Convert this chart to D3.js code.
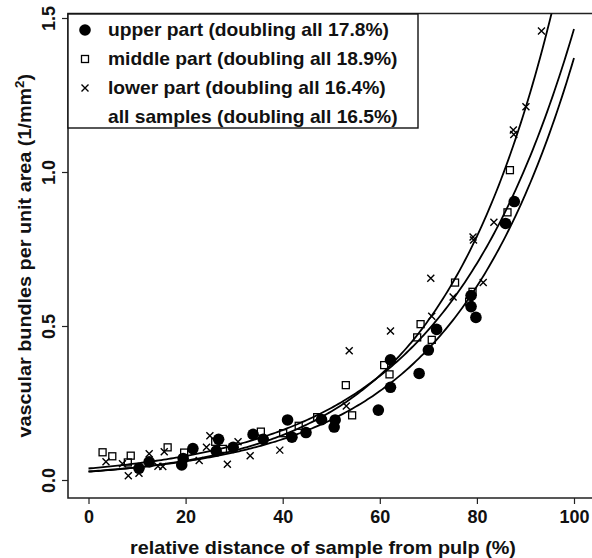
<!DOCTYPE html>
<html>
<head>
<meta charset="utf-8">
<script src="https://cdn.jsdelivr.net/npm/d3@7"></script>
<style>
  body { margin: 0; background: #fff; }
  text { font-family: "Liberation Sans", Arial, sans-serif; font-weight: bold; }
</style>
</head>
<body>
<div id="chart"></div>
<script>
// upper part: filled circles
const upperX = [10.4, 12.5, 19.2, 19.5, 21.5, 26.8, 26.3, 29.8, 33.9, 36.0, 41.0, 41.9, 44.8, 48.0, 50.8, 50.6,
    59.7, 62.2, 62.2, 68.1, 70.0, 71.7, 78.8, 78.8, 79.8, 85.9, 87.7];
const upperY = [0.038, 0.059, 0.049, 0.070, 0.102, 0.132, 0.094, 0.106, 0.148, 0.132, 0.195, 0.139, 0.154, 0.196, 0.195, 0.172,
    0.227, 0.301, 0.390, 0.346, 0.422, 0.489, 0.599, 0.563, 0.528, 0.833, 0.904];
// middle part: open squares
const middleX = [2.9, 4.9, 8.1, 8.7, 16.3, 19.7, 26.1, 27.7, 35.5, 40.1, 43.3, 47.1, 53.0, 54.3, 60.9, 62.0,
    68.4, 67.7, 70.7, 75.5, 79.1, 78.4, 86.3, 86.8];
const middleY = [0.090, 0.077, 0.057, 0.079, 0.106, 0.089, 0.124, 0.101, 0.157, 0.152, 0.176, 0.204, 0.308, 0.210, 0.373, 0.343,
    0.506, 0.463, 0.455, 0.641, 0.611, 0.579, 0.869, 1.006];
// lower part: crosses
const lowerX = [3.6, 7.0, 8.2, 10.4, 12.5, 14.3, 15.3, 15.6, 22.8, 24.3, 25.0, 28.6, 30.8, 33.3, 39.4, 53.1, 53.7,
    62.2, 70.5, 70.7, 75.1, 81.3, 79.2, 79.3, 83.5, 87.5, 87.6, 90.1, 93.3];
const lowerY = [0.059, 0.053, 0.014, 0.022, 0.085, 0.045, 0.044, 0.092, 0.063, 0.106, 0.144, 0.051, 0.124, 0.079, 0.097, 0.240, 0.420,
    0.484, 0.655, 0.532, 0.594, 0.641, 0.789, 0.779, 0.837, 1.136, 1.122, 1.212, 1.458];

// fitted exponential curves: value = start * 2^(x / doubling)
const curveNames = ["upper", "middle", "lower"];
const curveDoubling = [17.8, 18.9, 16.4];
const curveStart = [0.0279, 0.0374, 0.0269];

const legendLabels = ["upper part (doubling all 17.8%)", "middle part (doubling all 18.9%)",
    "lower part (doubling all 16.4%)", "all samples (doubling all 16.5%)"];
const legendSymbols = ["circle", "square", "cross", "none"];

const xTicks = [0, 20, 40, 60, 80, 100];
const yTicks = [0.0, 0.5, 1.0, 1.5];

const width = 592, height = 558;
const box = {left: 68, right: 594, top: 13.5, bottom: 498};
const stretch = 1.1; // text in the picture is a bit wider than the font

const x = d3.scaleLinear().domain([0, 100]).range([88.5, 574]);
const y = d3.scaleLinear().domain([0, 1.5]).range([480, 18]);

const svg = d3.select("#chart").append("svg")
    .attr("width", width)
    .attr("height", height);

svg.append("defs").append("clipPath")
    .attr("id", "plotclip")
    .append("rect")
    .attr("x", box.left).attr("y", box.top)
    .attr("width", box.right - box.left).attr("height", box.bottom - box.top);

// axes
const xAxis = svg.append("g")
    .attr("transform", "translate(0," + box.bottom + ")")
    .call(d3.axisBottom(x).tickValues(xTicks).tickSize(6).tickPadding(6).tickFormat(d3.format("d")));
xAxis.select(".domain").remove();
xAxis.selectAll("line").attr("stroke", "#222").attr("stroke-width", 1.2);
xAxis.selectAll("text").attr("font-size", 18).attr("fill", "#111");

const yAxis = svg.append("g")
    .attr("transform", "translate(" + box.left + ",0)")
    .call(d3.axisLeft(y).tickValues(yTicks).tickSize(6).tickFormat(d3.format(".1f")));
yAxis.select(".domain").remove();
yAxis.selectAll("line").attr("stroke", "#222").attr("stroke-width", 1.2);
yAxis.selectAll("text")
    .attr("font-size", 18).attr("fill", "#111")
    .attr("text-anchor", "middle")
    .attr("x", 0).attr("dy", 0)
    .attr("transform", "translate(-13,0) rotate(-90)");

// box (right side falls outside the picture)
svg.append("path")
    .attr("d", "M" + box.right + "," + box.top + "H" + box.left + "V" + box.bottom + "H" + box.right)
    .attr("fill", "none")
    .attr("stroke", "#222")
    .attr("stroke-width", 1.6);

// axis titles
svg.append("text")
    .attr("transform", "translate(" + ((box.left + box.right) / 2 - 8) + ",554) scale(" + stretch + ",1)")
    .attr("text-anchor", "middle")
    .attr("font-size", 18)
    .attr("fill", "#111")
    .text("relative distance of sample from pulp (%)");

const yTitle = svg.append("text")
    .attr("transform", "translate(31," + ((box.top + box.bottom) / 2) + ") rotate(-90) scale(" + stretch + ",1)")
    .attr("text-anchor", "middle")
    .attr("font-size", 18)
    .attr("fill", "#111");
yTitle.append("tspan").text("vascular bundles per unit area (1/mm");
yTitle.append("tspan").attr("font-size", 12).attr("dy", -7).text("2");
yTitle.append("tspan").attr("dy", 7).text(")");

const plot = svg.append("g").attr("clip-path", "url(#plotclip)");

// curves
const xs = d3.range(0, 100.01, 0.5);
const line = d3.line().x(d => x(d[0])).y(d => y(d[1]));
curveNames.forEach((name, i) => {
    plot.append("path")
        .datum(xs.map(v => [v, curveStart[i] * Math.pow(2, v / curveDoubling[i])]))
        .attr("d", line)
        .attr("fill", "none")
        .attr("stroke", "#000")
        .attr("stroke-width", 1.8);
});

function drawSymbol(g, kind, px, py) {
    if (kind === "circle") {
        g.append("circle").attr("cx", px).attr("cy", py).attr("r", 5.8).attr("fill", "#000");
    } else if (kind === "square") {
        g.append("rect").attr("x", px - 3.5).attr("y", py - 3.5).attr("width", 7).attr("height", 7)
            .attr("fill", "none").attr("stroke", "#000").attr("stroke-width", 1.3);
    } else if (kind === "cross") {
        g.append("path")
            .attr("d", "M" + (px - 3.5) + "," + (py - 3.5) + "L" + (px + 3.5) + "," + (py + 3.5) +
                "M" + (px - 3.5) + "," + (py + 3.5) + "L" + (px + 3.5) + "," + (py - 3.5))
            .attr("stroke", "#000").attr("stroke-width", 1.4);
    }
}

const pts = plot.append("g");
middleX.forEach((v, i) => drawSymbol(pts, "square", x(v), y(middleY[i])));
lowerX.forEach((v, i) => drawSymbol(pts, "cross", x(v), y(lowerY[i])));
upperX.forEach((v, i) => drawSymbol(pts, "circle", x(v), y(upperY[i])));

// legend
const legend = svg.append("g");
legend.append("rect")
    .attr("x", box.left).attr("y", 14)
    .attr("width", 350).attr("height", 114)
    .attr("fill", "#fff").attr("stroke", "#111").attr("stroke-width", 1.4);
legendLabels.forEach((lab, i) => {
    const ly = 30 + i * 29;
    drawSymbol(legend, legendSymbols[i], 85, ly);
    legend.append("text")
        .attr("transform", "translate(108," + (ly + 6) + ") scale(" + stretch + ",1)")
        .attr("font-size", 17.5)
        .attr("fill", "#111")
        .text(lab);
});
</script>
</body>
</html>
